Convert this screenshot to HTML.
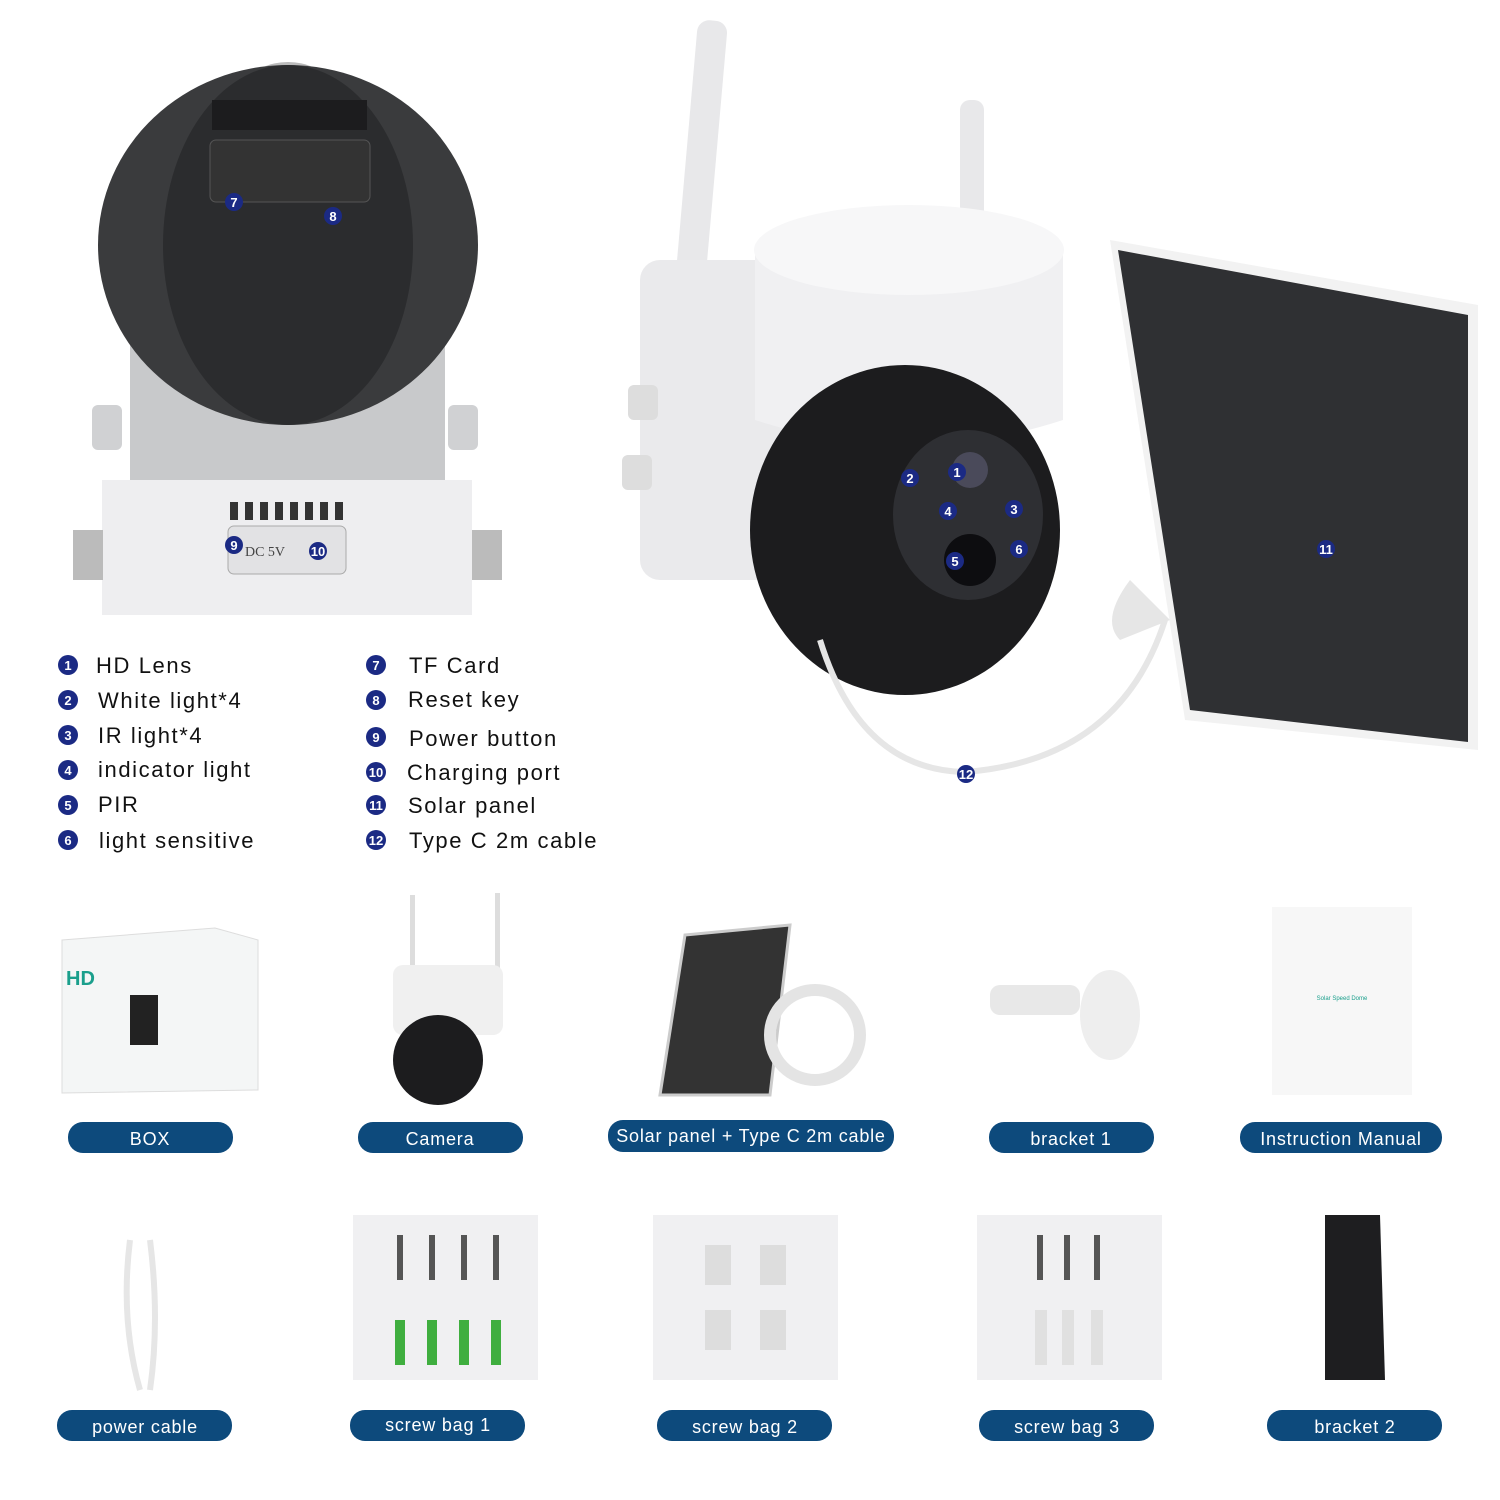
<!DOCTYPE html>
<html><head><meta charset="utf-8"><style>
body{margin:0;background:#fff;}
svg{display:block;font-family:"Liberation Sans",sans-serif;}
.n{fill:#1b2a84}
.nt{fill:#fff;font-size:13px;font-weight:bold;text-anchor:middle}
.lt{fill:#111;font-size:22px;letter-spacing:1.6px}
.p{fill:#0d4a7c}
.pt{fill:#fff;font-size:18px;text-anchor:middle;letter-spacing:0.8px}
</style></head><body>
<svg width="1500" height="1500" viewBox="0 0 1500 1500">
<!-- back camera view -->
<rect x="130" y="300" width="315" height="200" fill="#c8c9cb"/>
<rect x="92" y="405" width="30" height="45" rx="6" fill="#d0d1d3"/>
<rect x="448" y="405" width="30" height="45" rx="6" fill="#d0d1d3"/>
<ellipse cx="288" cy="80" rx="35" ry="18" fill="#bbb"/>
<ellipse cx="288" cy="245" rx="190" ry="180" fill="#3a3b3d"/>
<ellipse cx="288" cy="245" rx="125" ry="180" fill="#2b2c2e"/>
<g fill="#1c1c1e"><rect x="212" y="100" width="155" height="30"/></g>
<rect x="210" y="140" width="160" height="62" rx="6" fill="#333" stroke="#555"/>
<rect x="102" y="480" width="370" height="135" fill="#eeeef0"/>
<rect x="73" y="530" width="30" height="50" fill="#bbb"/>
<rect x="472" y="530" width="30" height="50" fill="#bbb"/>
<g fill="#333"><rect x="230" y="502" width="8" height="18"/><rect x="245" y="502" width="8" height="18"/><rect x="260" y="502" width="8" height="18"/><rect x="275" y="502" width="8" height="18"/><rect x="290" y="502" width="8" height="18"/><rect x="305" y="502" width="8" height="18"/><rect x="320" y="502" width="8" height="18"/><rect x="335" y="502" width="8" height="18"/></g>
<rect x="228" y="526" width="118" height="48" rx="6" fill="#e2e2e4" stroke="#aaa"/>
<text x="265" y="556" font-size="14" fill="#444" text-anchor="middle" font-family="Liberation Serif">DC 5V</text>
<!-- right camera -->
<rect x="685" y="20" width="30" height="300" rx="12" fill="#e8e8ea" transform="rotate(5 700 170)"/>
<rect x="960" y="100" width="24" height="120" rx="10" fill="#e8e8ea"/>
<rect x="640" y="260" width="170" height="320" rx="20" fill="#eaeaec"/>
<rect x="628" y="385" width="30" height="35" rx="6" fill="#ddd"/>
<rect x="622" y="455" width="30" height="35" rx="6" fill="#ddd"/>
<path d="M755 250 Q910 180 1063 250 L1063 420 Q910 470 755 420 Z" fill="#f0f0f2"/>
<ellipse cx="909" cy="250" rx="155" ry="45" fill="#f7f7f8"/>
<ellipse cx="905" cy="530" rx="155" ry="165" fill="#1c1c1e"/>
<ellipse cx="968" cy="515" rx="75" ry="85" fill="#2e2f33"/>
<circle cx="970" cy="470" r="18" fill="#4a4a5a"/>
<circle cx="970" cy="560" r="26" fill="#0d0d10"/>
<path d="M1110 240 L1478 305 L1478 750 L1185 720 Z" fill="#f2f2f2"/>
<path d="M1118 250 L1468 315 L1468 742 L1190 710 Z" fill="#2f3033"/>
<path d="M1130 580 Q1100 620 1120 640 L1170 620 Z" fill="#e6e6e6"/>
<path d="M820 640 Q860 770 965 772 Q1120 760 1165 620" fill="none" stroke="#e6e6e6" stroke-width="6"/>
<!-- badges on pictures -->
<g>
<circle class="n" cx="234" cy="202" r="9"/><text class="nt" x="234" y="207">7</text>
<circle class="n" cx="333" cy="216" r="9"/><text class="nt" x="333" y="221">8</text>
<circle class="n" cx="234" cy="545" r="9"/><text class="nt" x="234" y="550">9</text>
<circle class="n" cx="318" cy="551" r="9"/><text class="nt" x="318" y="556">10</text>
<circle class="n" cx="957" cy="472" r="9"/><text class="nt" x="957" y="477">1</text>
<circle class="n" cx="910" cy="478" r="9"/><text class="nt" x="910" y="483">2</text>
<circle class="n" cx="1014" cy="509" r="9"/><text class="nt" x="1014" y="514">3</text>
<circle class="n" cx="948" cy="511" r="9"/><text class="nt" x="948" y="516">4</text>
<circle class="n" cx="955" cy="561" r="9"/><text class="nt" x="955" y="566">5</text>
<circle class="n" cx="1019" cy="549" r="9"/><text class="nt" x="1019" y="554">6</text>
<circle class="n" cx="1326" cy="549" r="9"/><text class="nt" x="1326" y="554">11</text>
<circle class="n" cx="966" cy="774" r="9"/><text class="nt" x="966" y="779">12</text>
</g>
<!-- legend -->
<g>
<circle class="n" cx="68" cy="665" r="10"/><text class="nt" x="68" y="670">1</text><text class="lt" x="96" y="673">HD Lens</text>
<circle class="n" cx="68" cy="700" r="10"/><text class="nt" x="68" y="705">2</text><text class="lt" x="98" y="708">White light*4</text>
<circle class="n" cx="68" cy="735" r="10"/><text class="nt" x="68" y="740">3</text><text class="lt" x="98" y="743">IR light*4</text>
<circle class="n" cx="68" cy="770" r="10"/><text class="nt" x="68" y="775">4</text><text class="lt" x="98" y="777">indicator light</text>
<circle class="n" cx="68" cy="805" r="10"/><text class="nt" x="68" y="810">5</text><text class="lt" x="98" y="812">PIR</text>
<circle class="n" cx="68" cy="840" r="10"/><text class="nt" x="68" y="845">6</text><text class="lt" x="99" y="848">light sensitive</text>
<circle class="n" cx="376" cy="665" r="10"/><text class="nt" x="376" y="670">7</text><text class="lt" x="409" y="673">TF Card</text>
<circle class="n" cx="376" cy="700" r="10"/><text class="nt" x="376" y="705">8</text><text class="lt" x="408" y="707">Reset key</text>
<circle class="n" cx="376" cy="737" r="10"/><text class="nt" x="376" y="742">9</text><text class="lt" x="409" y="746">Power button</text>
<circle class="n" cx="376" cy="772" r="10"/><text class="nt" x="376" y="777">10</text><text class="lt" x="407" y="780">Charging port</text>
<circle class="n" cx="376" cy="805" r="10"/><text class="nt" x="376" y="810">11</text><text class="lt" x="408" y="813">Solar panel</text>
<circle class="n" cx="376" cy="840" r="10"/><text class="nt" x="376" y="845">12</text><text class="lt" x="409" y="848">Type C 2m cable</text>
</g>
<!-- row1 items -->
<path d="M62 940 L215 928 L258 940 L258 1090 L62 1093 Z" fill="#f4f6f6" stroke="#ddd"/>
<text x="66" y="985" font-size="20" font-weight="bold" fill="#1a9f8c">HD</text>
<rect x="130" y="995" width="28" height="50" fill="#222"/>
<rect x="410" y="895" width="5" height="80" fill="#ddd"/><rect x="495" y="893" width="5" height="80" fill="#ddd"/>
<rect x="393" y="965" width="110" height="70" rx="10" fill="#f0f0f0"/>
<circle cx="438" cy="1060" r="45" fill="#1c1c1e"/>
<path d="M685 935 L790 925 L770 1095 L660 1095 Z" fill="#333" stroke="#ccc" stroke-width="3"/>
<circle cx="815" cy="1035" r="45" fill="none" stroke="#e4e4e4" stroke-width="12"/>
<rect x="990" y="985" width="90" height="30" rx="10" fill="#e8e8e8"/>
<ellipse cx="1110" cy="1015" rx="30" ry="45" fill="#eee"/>
<rect x="1272" y="907" width="140" height="188" fill="#f7f7f7"/>
<text x="1342" y="1000" font-size="6" fill="#1a9f8c" text-anchor="middle">Solar Speed Dome</text>
<!-- row2 items -->
<path d="M130 1240 Q120 1320 140 1390 M150 1240 Q160 1320 150 1390" stroke="#e6e6e6" stroke-width="6" fill="none"/>
<rect x="353" y="1215" width="185" height="165" fill="#f0f0f2"/>
<g fill="#555"><rect x="397" y="1235" width="6" height="45"/><rect x="429" y="1235" width="6" height="45"/><rect x="461" y="1235" width="6" height="45"/><rect x="493" y="1235" width="6" height="45"/></g>
<g fill="#3fae3f"><rect x="395" y="1320" width="10" height="45"/><rect x="427" y="1320" width="10" height="45"/><rect x="459" y="1320" width="10" height="45"/><rect x="491" y="1320" width="10" height="45"/></g>
<rect x="653" y="1215" width="185" height="165" fill="#f0f0f2"/>
<g fill="#ddd"><rect x="705" y="1245" width="26" height="40"/><rect x="760" y="1245" width="26" height="40"/><rect x="705" y="1310" width="26" height="40"/><rect x="760" y="1310" width="26" height="40"/></g>
<rect x="977" y="1215" width="185" height="165" fill="#f0f0f2"/>
<g fill="#555"><rect x="1037" y="1235" width="6" height="45"/><rect x="1064" y="1235" width="6" height="45"/><rect x="1094" y="1235" width="6" height="45"/></g>
<g fill="#e0e0e0"><rect x="1035" y="1310" width="12" height="55"/><rect x="1062" y="1310" width="12" height="55"/><rect x="1091" y="1310" width="12" height="55"/></g>
<path d="M1325 1215 L1380 1215 L1385 1380 L1325 1380 Z" fill="#1e1e20"/>
<!-- pills -->
<g>
<rect class="p" x="68" y="1122" width="165" height="31" rx="15"/><text class="pt" x="150" y="1145">BOX</text>
<rect class="p" x="358" y="1122" width="165" height="31" rx="15"/><text class="pt" x="440" y="1145">Camera</text>
<rect class="p" x="608" y="1120" width="286" height="32" rx="15"/><text class="pt" x="751" y="1142">Solar panel + Type C 2m cable</text>
<rect class="p" x="989" y="1122" width="165" height="31" rx="15"/><text class="pt" x="1071" y="1145">bracket 1</text>
<rect class="p" x="1240" y="1122" width="202" height="31" rx="15"/><text class="pt" x="1341" y="1145">Instruction Manual</text>
<rect class="p" x="57" y="1410" width="175" height="31" rx="15"/><text class="pt" x="145" y="1433">power cable</text>
<rect class="p" x="350" y="1410" width="175" height="31" rx="15"/><text class="pt" x="438" y="1431">screw bag 1</text>
<rect class="p" x="657" y="1410" width="175" height="31" rx="15"/><text class="pt" x="745" y="1433">screw bag 2</text>
<rect class="p" x="979" y="1410" width="175" height="31" rx="15"/><text class="pt" x="1067" y="1433">screw bag 3</text>
<rect class="p" x="1267" y="1410" width="175" height="31" rx="15"/><text class="pt" x="1355" y="1433">bracket 2</text>
</g>
</svg>
</body></html>
